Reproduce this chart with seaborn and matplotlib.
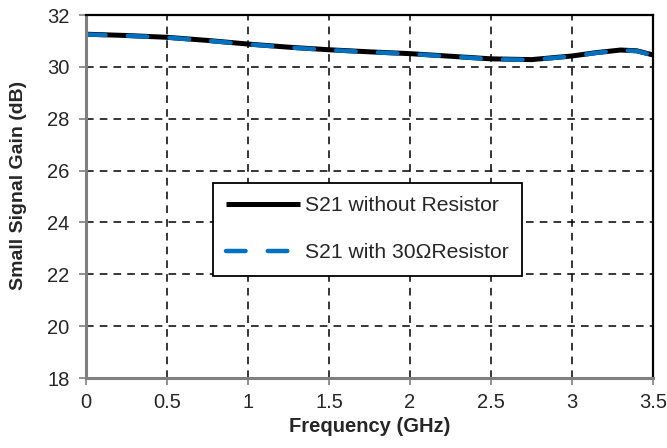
import numpy as np
import pandas as pd
import matplotlib
matplotlib.use("Agg")
import matplotlib.pyplot as plt
import seaborn as sns

# values
freq_ghz = [0, 0.25, 0.5, 0.75, 1.0, 1.25, 1.5, 1.75, 2.0, 2.25, 2.5, 2.75, 3.0, 3.15, 3.3, 3.4, 3.5]
gain_no_res = [31.26, 31.21, 31.14, 31.02, 30.88, 30.76, 30.66, 30.58, 30.51, 30.41, 30.31, 30.28,
               30.42, 30.55, 30.65, 30.62, 30.46]
gain_30ohm = [31.25, 31.20, 31.13, 31.01, 30.87, 30.75, 30.65, 30.57, 30.50, 30.40, 30.30, 30.27,
              30.41, 30.54, 30.64, 30.61, 30.45]
labels = ['S21 without Resistor', 'S21 with 30\u03a9Resistor']
x_ticks = [0, 0.5, 1, 1.5, 2, 2.5, 3, 3.5]
x_tick_labels = ['0', '0.5', '1', '1.5', '2', '2.5', '3', '3.5']
y_ticks = [18, 20, 22, 24, 26, 28, 30, 32]

sns.set_style('white')
plt.rcParams['font.family'] = ['Liberation Sans', 'DejaVu Sans']

fig = plt.figure(figsize=(6.67, 4.48), dpi=100)
ax = fig.add_axes([0.129, 0.156, 0.850, 0.8105])

sns.lineplot(x=freq_ghz, y=gain_no_res, ax=ax, color='black', linewidth=3.6,
             label=labels[0], solid_capstyle='butt')
sns.lineplot(x=freq_ghz, y=gain_30ohm, ax=ax, color='#0070C0', linewidth=3.2,
             label=labels[1], dashes=False)
ax.lines[1].set_dashes((4.4, 5.0))
ax.lines[1].set_dash_capstyle('round')

ax.set_xlim(0, 3.5)
ax.set_ylim(18, 32)
ax.set_xticks(x_ticks)
ax.set_xticklabels(x_tick_labels)
ax.set_yticks(y_ticks)

ax.grid(True, color='black', linestyle=(0, (5, 4)), linewidth=1.1)
ax.set_axisbelow(True)

for side in ['top', 'right']:
    ax.spines[side].set_color('black')
    ax.spines[side].set_linewidth(1.6)
for side in ['left', 'bottom']:
    ax.spines[side].set_color('#7f7f7f')
    ax.spines[side].set_linewidth(2.2)

ax.tick_params(axis='both', direction='out', length=5, width=1.2, color='#7f7f7f',
               labelsize=14.5, left=True, bottom=True)
ax.tick_params(axis='y', pad=7)
ax.tick_params(axis='x', pad=6)

ax.set_xlabel('Frequency (GHz)', fontsize=14.5, fontweight='bold', labelpad=3)
ax.set_ylabel('Small Signal Gain (dB)', fontsize=14, fontweight='bold')
ax.yaxis.set_label_coords(-0.104, 0.53)

leg = ax.legend(loc='center', bbox_to_anchor=(0.4965, 0.41), fontsize=15.2, frameon=True,
                fancybox=False, edgecolor='black', framealpha=1, handlelength=3.5,
                labelspacing=1.35, borderpad=0.62, handletextpad=0.25)
leg.get_frame().set_linewidth(1.3)

plt.savefig('out.png', dpi=100)
plt.close()
